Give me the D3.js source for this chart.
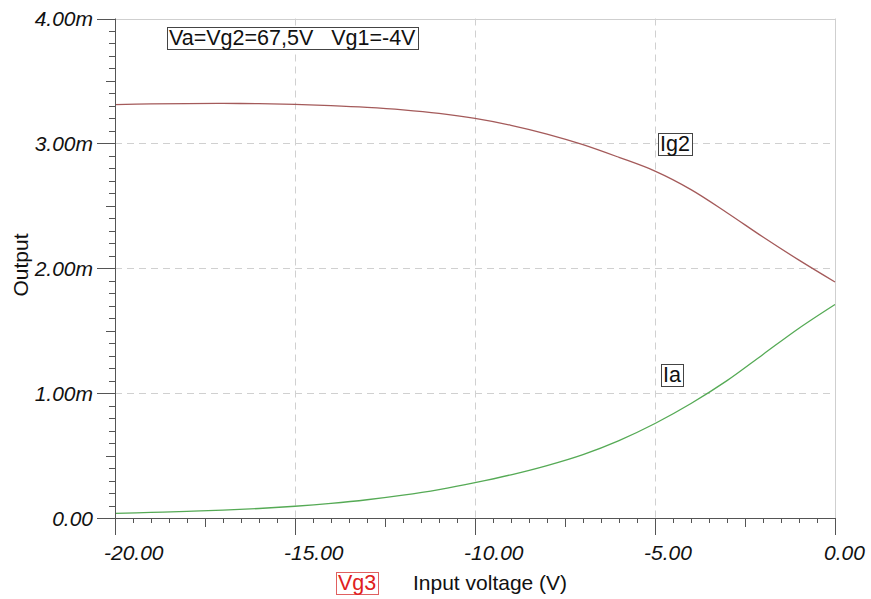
<!DOCTYPE html>
<html>
<head>
<meta charset="utf-8">
<script src="https://cdn.jsdelivr.net/npm/d3@7/dist/d3.min.js"></script>
<style>
  html, body { margin: 0; padding: 0; background: #fff; }
  svg { display: block; font-family: "Liberation Sans", Arial, Helvetica, sans-serif; }
</style>
</head>
<body>
<svg id="chart" width="871" height="599"></svg>
<script>
// ---- data ----
const vg3 = [-20, -19, -18, -17, -16, -15, -14, -13, -12, -11, -10, -9, -8, -7, -6, -5, -4, -3, -2, -1, 0];
const ig2 = [3.310, 3.316, 3.319, 3.320, 3.318, 3.312, 3.302, 3.288, 3.268, 3.240, 3.200, 3.145, 3.075, 2.990, 2.888, 2.778, 2.630, 2.445, 2.250, 2.065, 1.890];
const ia  = [0.037, 0.045, 0.053, 0.063, 0.076, 0.094, 0.117, 0.146, 0.183, 0.228, 0.283, 0.346, 0.420, 0.508, 0.620, 0.757, 0.917, 1.100, 1.310, 1.520, 1.710];
const xTicks = [-20, -15, -10, -5, 0];
const xTickLabels = ["-20.00", "-15.00", "-10.00", "-5.00", "0.00"];
const yTicks = [0, 1, 2, 3, 4];
const yTickLabels = ["0.00", "1.00m", "2.00m", "3.00m", "4.00m"];
const seriesNames = ["Ig2", "Ia"];
const titleText = "Va=Vg2=67,5V   Vg1=-4V";
const xLabel = "Input voltage (V)";
const xVarLabel = "Vg3";
const yLabel = "Output";

// ---- layout ----
const L = 115, R = 835, T = 18.5, B = 518;
const svg = d3.select("#chart");
const x = d3.scaleLinear().domain([-20, 0]).range([L, R]);
const y = d3.scaleLinear().domain([0, 4]).range([B, T]);

// grid
const g = svg.append("g");
g.selectAll("line.vg").data(xTicks.filter(v => v > -20 && v < 0)).enter().append("line")
  .attr("x1", d => Math.round(x(d)) + 0.5).attr("x2", d => Math.round(x(d)) + 0.5)
  .attr("y1", T).attr("y2", B)
  .attr("stroke", "#d0d0d0").attr("stroke-width", 1).attr("stroke-dasharray", "7,5");
g.selectAll("line.hg").data(yTicks.filter(v => v > 0 && v < 4)).enter().append("line")
  .attr("y1", d => Math.round(y(d)) + 0.5).attr("y2", d => Math.round(y(d)) + 0.5)
  .attr("x1", L).attr("x2", R)
  .attr("stroke", "#d0d0d0").attr("stroke-width", 1).attr("stroke-dasharray", "7,5");
// top and right frame lines (solid light)
g.append("line").attr("x1", L).attr("x2", R).attr("y1", Math.round(y(4)) + 0.5).attr("y2", Math.round(y(4)) + 0.5)
  .attr("stroke", "#cfcfcf");
g.append("line").attr("x1", Math.round(x(0)) + 0.5).attr("x2", Math.round(x(0)) + 0.5).attr("y1", T).attr("y2", B)
  .attr("stroke", "#cfcfcf");

// series
const line = d3.line().curve(d3.curveCatmullRom.alpha(0.5));
const colors = ["#a45a5a", "#55aa55"];
[ig2, ia].forEach((s, i) => {
  svg.append("path")
    .attr("d", line(vg3.map((v, k) => [x(v), y(s[k])])))
    .attr("fill", "none").attr("stroke", colors[i]).attr("stroke-width", 1.3);
});

// axes
const axisColor = "#555";
const xAxis = svg.append("g");
const xMinor = d3.range(0, 41).map(k => -20 + k * 0.5);
xAxis.selectAll("line.t").data(xMinor).enter().append("line")
  .attr("x1", d => Math.round(x(d)) + 0.5).attr("x2", d => Math.round(x(d)) + 0.5)
  .attr("y1", B)
  .attr("y2", d => {
    const r = ((d % 5) + 5) % 5;
    if (Math.abs(r) < 1e-6) return B + 17;
    if (Math.abs(r - 2.5) < 1e-6) return B + 9;
    return B + 5;
  })
  .attr("stroke", axisColor).attr("stroke-width", 1);
xAxis.append("line").attr("x1", L - 18).attr("x2", R).attr("y1", B + 0.5).attr("y2", B + 0.5)
  .attr("stroke", axisColor);
xAxis.selectAll("text").data(xTicks).enter().append("text")
  .attr("x", d => x(d) - 11).attr("y", 560)
  .attr("font-size", 21).attr("font-style", "italic").attr("fill", "#111")
  .text((d, i) => xTickLabels[i]);

const yAxis = svg.append("g");
const yMinor = d3.range(0, 41).map(k => k * 0.1);
yAxis.selectAll("line.t").data(yMinor).enter().append("line")
  .attr("y1", d => Math.round(y(d)) + 0.5).attr("y2", d => Math.round(y(d)) + 0.5)
  .attr("x2", L)
  .attr("x1", (d, k) => {
    if (k % 10 === 0) return L - 18;
    if (k % 5 === 0) return L - 9;
    return L - 6;
  })
  .attr("stroke", axisColor).attr("stroke-width", 1);
yAxis.append("line").attr("x1", L + 0.5).attr("x2", L + 0.5).attr("y1", T).attr("y2", B + 17)
  .attr("stroke", axisColor);
yAxis.selectAll("text").data(yTicks).enter().append("text")
  .attr("x", 93).attr("y", d => y(d) + 7.5)
  .attr("text-anchor", "end")
  .attr("font-size", 21).attr("font-style", "italic").attr("fill", "#111")
  .text((d, i) => yTickLabels[i]);

// y label
svg.append("text")
  .attr("transform", "translate(28,265) rotate(-90)")
  .attr("text-anchor", "middle").attr("font-size", 21).attr("fill", "#111")
  .text(yLabel);

// x label
svg.append("text").attr("x", 413).attr("y", 590).attr("font-size", 21).attr("fill", "#111").text(xLabel);

// boxed labels
function boxed(txt, bx, by, size, color, stroke) {
  const t = svg.append("text").attr("x", bx).attr("y", by)
    .attr("font-size", size).attr("fill", color)
    .style("white-space", "pre").attr("xml:space", "preserve")
    .text(txt);
  const bb = t.node().getBBox();
  svg.insert("rect", () => t.node())
    .attr("x", Math.round(bb.x - 2) + 0.5).attr("y", Math.round(bb.y + 1) + 0.5)
    .attr("width", Math.round(bb.width + 4)).attr("height", Math.round(bb.height - 2))
    .attr("fill", "#fff").attr("stroke", stroke).attr("stroke-width", 1);
}
boxed(titleText, 169, 45, 21.5, "#111", "#444");
boxed(seriesNames[0], 660, 151, 21.5, "#111", "#444");
boxed(seriesNames[1], 663, 382, 21.5, "#111", "#444");
boxed(xVarLabel, 338, 590, 21.5, "#e02020", "#e06060");
</script>
</body>
</html>
